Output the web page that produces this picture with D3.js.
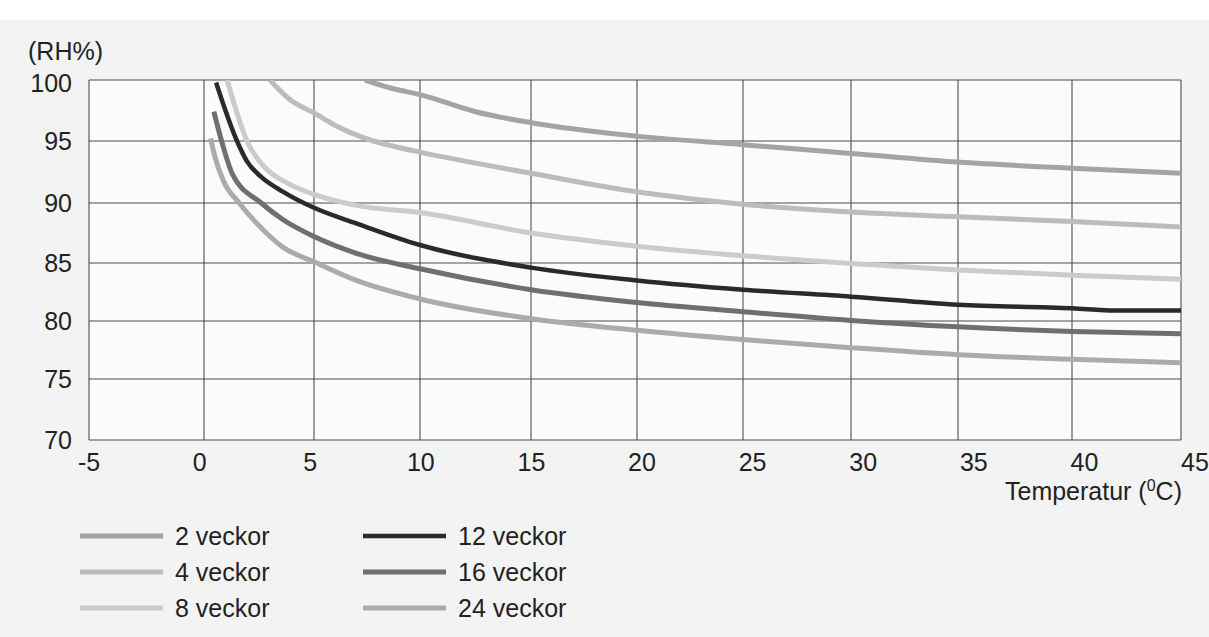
<!DOCTYPE html>
<html>

<head>
    <meta charset="UTF-8">
    <style>
        body { margin: 0; background: #f3f3f3; }
        svg { display: block; font-family: "Liberation Sans", Arial, sans-serif; }
    </style>
</head>

<body>
    <div id="my_dataviz"></div>

    <script src="https://d3js.org/d3.v7.min.js"></script>
    <script>
        // tick values on the two axes
        const xTicks = [-5, 0, 5, 10, 15, 20, 25, 30, 35, 40, 45];
        const yTicks = [70, 75, 80, 85, 90, 95, 100];

        // series names (weeks)
        const seriesNames = ["2 veckor", "4 veckor", "8 veckor", "12 veckor", "16 veckor", "24 veckor"];

        // temperature (C) and RH (%) per series
        const temp2 = [7.4, 8.7, 10, 12.5, 15, 20, 25, 30, 35, 40, 45];
        const rh2 = [100, 99.3, 98.8, 97.4, 96.5, 95.4, 94.7, 94.0, 93.3, 92.8, 92.4];

        const temp4 = [3.0, 3.9, 5, 6.2, 7.8, 8.7, 10, 15, 20, 25, 30, 35, 40, 45];
        const rh4 = [100, 98.4, 97.3, 96.1, 95.0, 94.6, 94.1, 92.4, 90.9, 89.9, 89.25, 88.85, 88.45, 88.0];

        const temp8 = [1.05, 1.5, 1.95, 2.7, 3.9, 5, 7, 10, 15, 20, 25, 30, 35, 40, 45];
        const rh8 = [100, 97.3, 95.0, 93.0, 91.5, 90.7, 89.8, 89.2, 87.5, 86.4, 85.6, 84.95, 84.4, 83.95, 83.6];

        const temp12 = [0.55, 0.88, 1.5, 1.94, 2.6, 3.6, 5, 7, 10, 15, 20, 25, 30, 35, 40, 42, 45];
        const rh12 = [99.8, 98.0, 95.0, 93.4, 92.1, 90.9, 89.6, 88.3, 86.5, 84.6, 83.5, 82.7, 82.1, 81.4, 81.1, 80.9, 80.9];

        const temp16 = [0.45, 0.8, 1.3, 2.6, 3.6, 5, 7, 10, 15, 20, 25, 30, 35, 40, 45];
        const rh16 = [97.4, 95.0, 92.3, 90.0, 88.6, 87.2, 85.8, 84.5, 82.7, 81.6, 80.8, 80.05, 79.5, 79.1, 78.9];

        const temp24 = [0.3, 0.5, 0.88, 1.6, 2.4, 3.6, 5, 7, 10, 15, 20, 25, 30, 35, 40, 45];
        const rh24 = [95.2, 93.7, 91.8, 90.0, 88.3, 86.3, 85.1, 83.5, 81.9, 80.2, 79.2, 78.4, 77.7, 77.1, 76.7, 76.4];

        const temps = [temp2, temp4, temp8, temp12, temp16, temp24];
        const rhs = [rh2, rh4, rh8, rh12, rh16, rh24];

        // line look per series
        const colors = ["#a4a4a4", "#bcbcbc", "#cbcbcb", "#2a2a2a", "#6f6f6f", "#ababab"];
        const widths = [5, 5, 5, 4.5, 5, 5];

        const W = 1209, H = 637;

        const svg = d3.select("#my_dataviz")
            .append("svg")
            .attr("width", W)
            .attr("height", H);

        // white strip on top of the scanned page
        svg.append("rect").attr("x", 0).attr("y", 0).attr("width", W).attr("height", 20).attr("fill", "#ffffff");

        // scanned grid is a bit uneven, so use a piecewise scale
        const x = d3.scaleLinear()
            .domain(xTicks)
            .range([89, 204, 314, 420, 531, 637, 743, 851, 958, 1072, 1181]);
        const xLab = d3.scaleLinear().domain([-5, 45]).range([89, 1195]);

        const y = d3.scaleLinear()
            .domain(yTicks)
            .range([440, 379, 321, 263, 203, 141, 80]);

        // plot background
        svg.append("rect")
            .attr("x", x(-5)).attr("y", y(100))
            .attr("width", x(45) - x(-5)).attr("height", y(70) - y(100))
            .attr("fill", "#fbfbfb");

        // grid
        const grid = svg.append("g").attr("stroke", "#4d4d4d").attr("stroke-width", 1.1);
        grid.selectAll("line.v")
            .data(xTicks)
            .enter().append("line")
            .attr("class", "v")
            .attr("x1", d => x(d)).attr("x2", d => x(d))
            .attr("y1", y(100)).attr("y2", y(70));
        grid.selectAll("line.h")
            .data(yTicks)
            .enter().append("line")
            .attr("class", "h")
            .attr("x1", x(-5)).attr("x2", x(45))
            .attr("y1", d => y(d)).attr("y2", d => y(d));

        // tick labels
        svg.append("g")
            .selectAll("text")
            .data(xTicks)
            .enter().append("text")
            .attr("x", d => xLab(d))
            .attr("y", 471)
            .attr("text-anchor", "middle")
            .attr("font-size", 25)
            .attr("fill", "#222")
            .text(d => d);

        svg.append("g")
            .selectAll("text")
            .data(yTicks)
            .enter().append("text")
            .attr("x", 72)
            .attr("y", d => y(d) + (d == 100 ? 3 : 0))
            .attr("dy", "0.35em")
            .attr("text-anchor", "end")
            .attr("font-size", 25)
            .attr("fill", "#222")
            .text(d => d);

        // axis titles
        svg.append("text")
            .attr("x", 28).attr("y", 60)
            .attr("font-size", 25)
            .attr("fill", "#222")
            .text("(RH%)");

        const xt = svg.append("text")
            .attr("x", 1182).attr("y", 500)
            .attr("text-anchor", "end")
            .attr("font-size", 25)
            .attr("fill", "#222");
        xt.append("tspan").text("Temperatur (");
        xt.append("tspan").attr("font-size", 16).attr("dy", -9).text("0");
        xt.append("tspan").attr("dy", 9).text("C)");

        // curves
        svg.append("clipPath").attr("id", "plot")
            .append("rect")
            .attr("x", x(-5)).attr("y", y(100))
            .attr("width", x(45) - x(-5)).attr("height", y(70) - y(100));

        const line = d3.line()
            .x(d => x(d[0]))
            .y(d => y(d[1]))
            .curve(d3.curveMonotoneX);

        svg.append("g")
            .attr("clip-path", "url(#plot)")
            .selectAll("path")
            .data(seriesNames)
            .enter().append("path")
            .attr("fill", "none")
            .attr("stroke", (d, i) => colors[i])
            .attr("stroke-width", (d, i) => widths[i])
            .attr("d", (d, i) => line(d3.zip(temps[i], rhs[i])));

        // legend, two columns of three
        const legend = svg.selectAll("g.legend")
            .data(seriesNames)
            .enter().append("g")
            .attr("class", "legend")
            .attr("transform", (d, i) => "translate(" + (i < 3 ? 80 : 363) + "," + (536 + (i % 3) * 36) + ")");

        legend.append("line")
            .attr("x1", 0).attr("x2", 83)
            .attr("stroke", (d, i) => colors[i])
            .attr("stroke-width", (d, i) => widths[i]);

        legend.append("text")
            .attr("x", 95)
            .attr("dy", "0.35em")
            .attr("font-size", 25)
            .attr("fill", "#222")
            .text(d => d);
    </script>
</body>

</html>
